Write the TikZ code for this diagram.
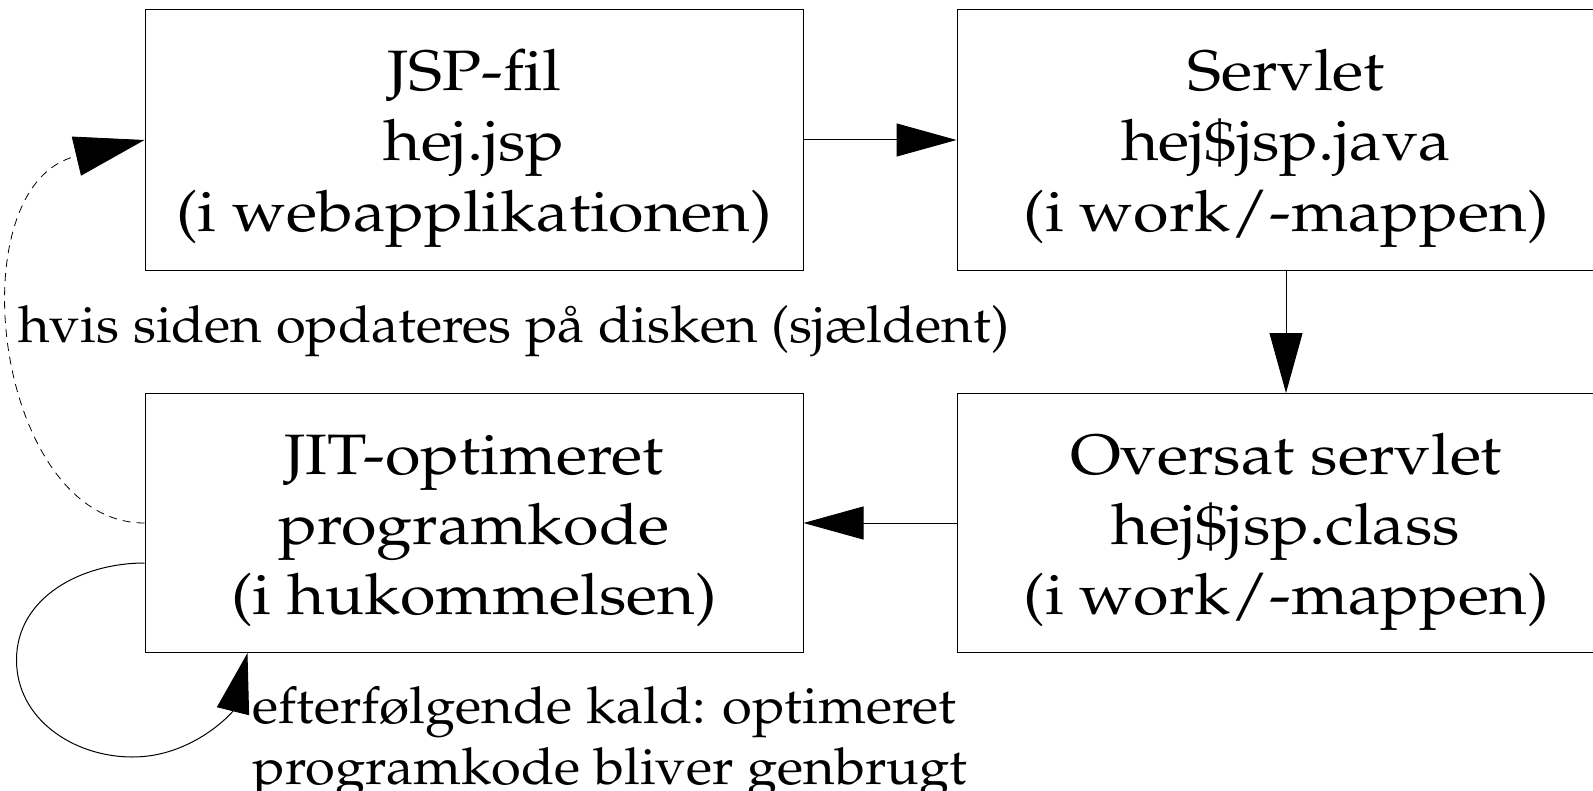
\documentclass[tikz,border=0pt]{standalone}
\usepackage[T1]{fontenc}
\usepackage{mathpazo}
\usepackage{graphicx}
\usetikzlibrary{arrows.meta}

% bred tekst i kasserne, lidt smallere i etiketterne
\newcommand{\bredtekst}[1]{\raisebox{-3.5pt}[\height][\depth]{\scalebox{1.134}[1]{\begin{tabular}{@{}c@{}}#1\end{tabular}}}}
\newcommand{\etiket}[1]{\scalebox{1.064}[1]{\begin{tabular}[t]{@{}l@{}}#1\end{tabular}}}

\tikzset{
  boks/.style={draw, line width=0.5pt, minimum width=329pt, minimum height=130pt,
    inner sep=0pt, font=\fontsize{28.5}{35}\selectfont},
  pil/.style={line width=0.5pt, -{Triangle[length=30pt,width=16.5pt]}},
  tekst/.style={inner sep=0pt, anchor=base west, font=\fontsize{25.5}{30.5}\selectfont}
}

\begin{document}
\begin{tikzpicture}[x=0.5pt,y=0.5pt]
\useasboundingbox (0,0) rectangle (1593,-791);
% de fire trin
\node[boks] (jsp) at (474,-140) {\bredtekst{JSP-fil\\hej.jsp\\(i webapplikationen)}};
\node[boks] (servlet) at (1286,-140) {\bredtekst{Servlet\\hej\$jsp.java\\(i work/-mappen)}};
\node[boks, minimum height=129.5pt] (oversat) at (1286,-523) {\bredtekst{Oversat servlet\\hej\$jsp.class\\(i work/-mappen)}};
\node[boks, minimum height=129.5pt] (jit) at (474,-523) {\bredtekst{JIT-optimeret\\programkode\\(i hukommelsen)}};
\draw[pil] (jsp) -- (servlet);
\draw[pil] (servlet) -- (oversat);
\draw[pil] (oversat) -- (jit);
% tilbage til JSP-filen
\draw[pil, dash pattern=on 4pt off 3pt, line width=0.4pt, -{Triangle[length=35pt,width=20pt]}]
  (jit.west) .. controls +(-150,0) and +(-190,-45) .. (jsp.west);
\node[tekst] (hvis) at (18,-342) {\etiket{hvis siden opdateres p\aa{} disken (sj\ae{}ldent)}};
% genbrug
\draw[pil] ([yshift=-20pt]jit.west) to[out=180,in=90] ++(-128,-97)
  to[out=-90,in=180] ++(116,-97) to[out=0,in=256] ([xshift=51.5pt]jit.south west);
\node[tekst] (kald) at (252,-723) {\etiket{efterf\o{}lgende kald: optimeret\\programkode bliver genbrugt}};
\end{tikzpicture}
\end{document}
